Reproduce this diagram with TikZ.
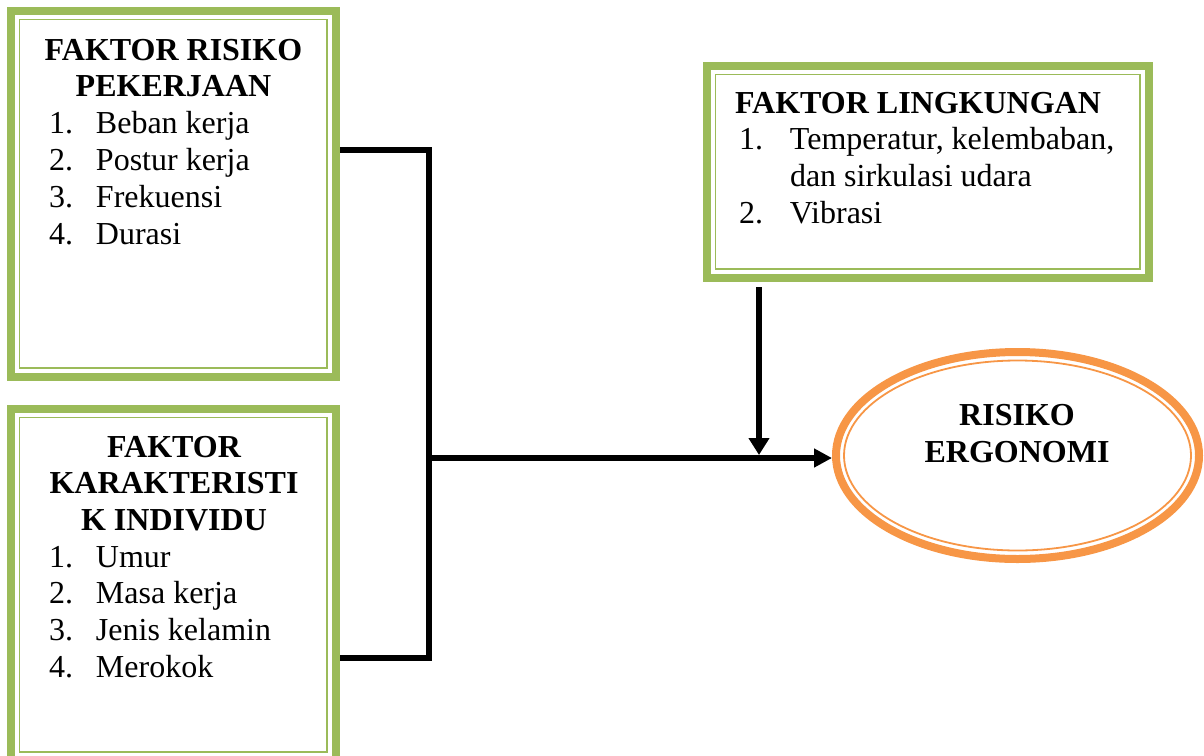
\documentclass[tikz,border=0pt]{standalone}
\usepackage{fontspec}
\setmainfont{Liberation Serif}
\usetikzlibrary{arrows.meta,shapes.geometric}
\definecolor{boxgreen}{HTML}{9BBB59}
\definecolor{ovalorange}{HTML}{F79646}
\newcommand\myitem[3]{\makebox[#1][l]{#2}#3}
\begin{document}
\begin{tikzpicture}[x=1pt,y=-1pt,
  frame/.style={draw=boxgreen,line width=8pt,rectangle,outer sep=0pt,inner sep=0pt},
  innerframe/.style={draw=boxgreen,line width=1.8pt},
  oval/.style={draw=ovalorange,line width=8pt,ellipse,outer sep=0pt,inner sep=0pt},
  inneroval/.style={draw=ovalorange,line width=1.8pt},
  txt/.style={font=\fontsize{32}{36.8}\selectfont,inner sep=0pt,outer sep=0pt},
  head/.style={txt,font=\fontsize{32}{36.8}\selectfont\bfseries},
  conn/.style={line width=6pt,black,line join=miter},
  arrh/.style={conn,-{Triangle[length=18pt,width=18pt]}},
  arrv/.style={conn,-{Triangle[length=17pt,width=20pt]}}]
\clip (0,0) rectangle (1204,755);

% boxes
\node[frame,minimum width=325pt,minimum height=366pt] (b1) at (173.5,194) {};
\draw[innerframe] ([shift={(8.5,8.5)}]b1.north west) rectangle ([shift={(-9,-9)}]b1.south east);
\node[frame,minimum width=325pt,minimum height=352pt] (b2) at (173.5,585) {};
\draw[innerframe] ([shift={(8.5,8.5)}]b2.north west) rectangle ([shift={(-9,-9)}]b2.south east);
\node[frame,minimum width=442pt,minimum height=212pt] (b3) at (928,172) {};
\draw[innerframe] ([shift={(8.5,8.5)}]b3.north west) rectangle ([shift={(-9,-9)}]b3.south east);
\node[oval,minimum width=363pt,minimum height=207pt] (e) at (1017.5,455.5) {};
\draw[inneroval] (e.center) ellipse [x radius=173.5pt, y radius=95pt];

% box 1 text
\node[head,anchor=base] (t1a) at (173.5,60) {FAKTOR RISIKO};
\node[head,anchor=base] (t1b) at (173.5,96.8) {PEKERJAAN};
\node[txt,anchor=base west] (t1c) at (49,133.6) {\myitem{47pt}{1.}{Beban kerja}};
\node[txt,anchor=base west] (t1d) at (49,170.4) {\myitem{47pt}{2.}{Postur kerja}};
\node[txt,anchor=base west] (t1e) at (49,207.2) {\myitem{47pt}{3.}{Frekuensi}};
\node[txt,anchor=base west] (t1f) at (49,244) {\myitem{47pt}{4.}{Durasi}};

% box 2 text
\node[head,anchor=base] (t2a) at (174,457) {FAKTOR};
\node[head,anchor=base] (t2b) at (174,493.7) {KARAKTERISTI};
\node[head,anchor=base] (t2c) at (174,530.4) {K INDIVIDU};
\node[txt,anchor=base west] (t2d) at (49,567.1) {\myitem{47pt}{1.}{Umur}};
\node[txt,anchor=base west] (t2e) at (49,603.8) {\myitem{47pt}{2.}{Masa kerja}};
\node[txt,anchor=base west] (t2f) at (49,640.5) {\myitem{47pt}{3.}{Jenis kelamin}};
\node[txt,anchor=base west] (t2g) at (49,677.2) {\myitem{47pt}{4.}{Merokok}};

% box 3 text
\node[head,anchor=base west] (t3a) at (735,113) {FAKTOR LINGKUNGAN};
\node[txt,anchor=base west] (t3b) at (739,149.8) {\myitem{51pt}{1.}{Temperatur, kelembaban,}};
\node[txt,anchor=base west] (t3c) at (790,186.6) {dan sirkulasi udara};
\node[txt,anchor=base west] (t3d) at (739,223.4) {\myitem{51pt}{2.}{Vibrasi}};

% ellipse text
\node[head,anchor=base] (t4a) at (1017,425.5) {RISIKO};
\node[head,anchor=base] (t4b) at (1017,462.5) {ERGONOMI};

% connectors
\coordinate (jt) at (429,150);
\coordinate (jb) at (429,658);
\coordinate (jm) at (429,458);
\coordinate (jv) at (759,458);
\draw[conn,shorten <=4pt,shorten >=4pt] (b1.east |- jt) -- (jt) -- (jb) -- (b2.east |- jb);
\draw[arrh,shorten >=4pt] (jm) -- (jm -| e.west);
\draw[arrv,shorten <=9pt,shorten >=3pt] (jv |- b3.south) -- (jv);
\end{tikzpicture}
\end{document}
